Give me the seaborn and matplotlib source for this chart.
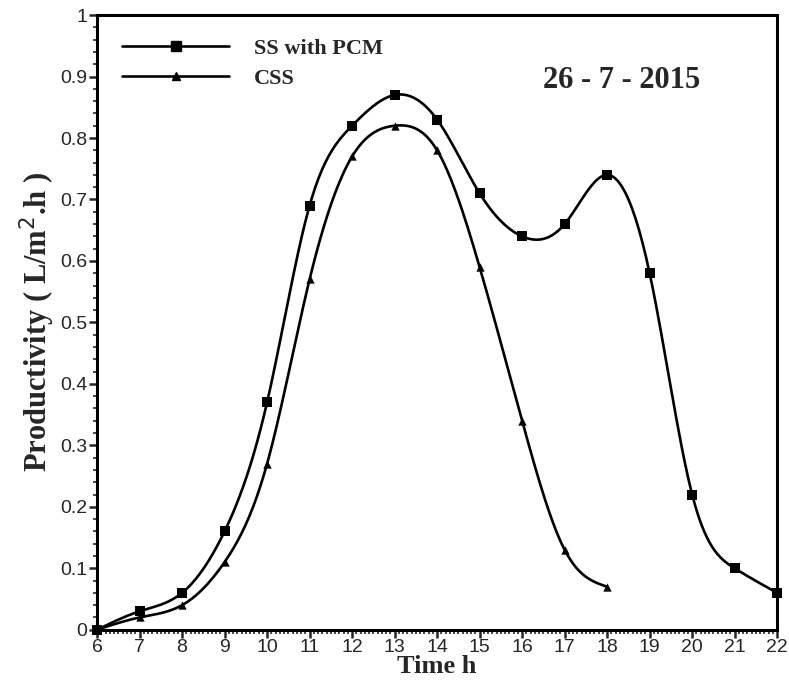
import numpy as np
import pandas as pd
import matplotlib
matplotlib.use("Agg")
import matplotlib.pyplot as plt
from matplotlib.lines import Line2D
from matplotlib.ticker import MultipleLocator
import seaborn as sns

hours_pcm = [6, 7, 8, 9, 10, 11, 12, 13, 14, 15, 16, 17, 18, 19, 20, 21, 22]
ss_with_pcm = [0.0, 0.03, 0.06, 0.16, 0.37, 0.69, 0.82, 0.87, 0.83, 0.71,
               0.64, 0.66, 0.74, 0.58, 0.22, 0.10, 0.06]
hours_css = [6, 7, 8, 9, 10, 11, 12, 13, 14, 15, 16, 17, 18]
css = [0.0, 0.02, 0.04, 0.11, 0.27, 0.57, 0.77, 0.82, 0.78, 0.59, 0.34, 0.13, 0.07]
date_text = "26 - 7 - 2015"


# natural cubic spline, only used to draw the smooth line between points
def smooth(x, y, n=400):
    x = np.asarray(x, float)
    y = np.asarray(y, float)
    h = np.diff(x)
    m = len(x)
    A = np.zeros((m, m))
    rhs = np.zeros(m)
    A[0, 0] = A[-1, -1] = 1
    for i in range(1, m - 1):
        A[i, i - 1] = h[i - 1]
        A[i, i] = 2 * (h[i - 1] + h[i])
        A[i, i + 1] = h[i]
        rhs[i] = 3 * ((y[i + 1] - y[i]) / h[i] - (y[i] - y[i - 1]) / h[i - 1])
    c = np.linalg.solve(A, rhs)
    b = (y[1:] - y[:-1]) / h - h * (2 * c[:-1] + c[1:]) / 3
    d = (c[1:] - c[:-1]) / (3 * h)
    xs = np.linspace(x[0], x[-1], n)
    k = np.clip(np.searchsorted(x, xs, side="right") - 1, 0, m - 2)
    t = xs - x[k]
    ys = y[k] + b[k] * t + c[k] * t ** 2 + d[k] * t ** 3
    return xs, ys


sns.set_style("ticks")
plt.rcParams["font.family"] = ["Liberation Sans", "DejaVu Sans"]

fig = plt.figure(figsize=(7.89, 6.86), dpi=100)
ax = fig.add_axes([0.123, 0.082, 0.862, 0.896])

for xv, yv, mk, ms in [(hours_pcm, ss_with_pcm, "s", 7), (hours_css, css, "^", 6)]:
    xs, ys = smooth(xv, yv)
    curve = pd.DataFrame({"x": xs, "y": ys})
    sns.lineplot(data=curve, x="x", y="y", ax=ax, color="black", linewidth=1.9,
                 sort=False, estimator=None)
    pts = pd.DataFrame({"x": xv, "y": yv})
    sns.scatterplot(data=pts, x="x", y="y", ax=ax, color="black", marker=mk,
                    s=ms ** 2, linewidth=0, zorder=3, clip_on=False)

ax.set_xlim(6, 22)
ax.set_ylim(0, 1)
ax.xaxis.set_major_locator(MultipleLocator(1))
ax.xaxis.set_minor_locator(MultipleLocator(0.1))
ax.yaxis.set_major_locator(MultipleLocator(0.1))
ax.yaxis.set_minor_locator(MultipleLocator(0.02))
ax.set_yticks(np.arange(0, 1.01, 0.1))
ax.set_yticklabels(["0", "0.1", "0.2", "0.3", "0.4", "0.5", "0.6", "0.7", "0.8", "0.9", "1"])
ax.tick_params(which="major", direction="out", length=6, width=1.8, labelsize=14, pad=1)
ax.tick_params(which="minor", direction="out", length=3, width=1.2)

for sp in ax.spines.values():
    sp.set_linewidth(2.2)
    sp.set_color("black")

serif_bold = {"family": ["Liberation Serif", "DejaVu Serif"], "weight": "bold"}
ax.set_xlabel("Time h", fontsize=19, labelpad=-1, **serif_bold)
ax.set_ylabel("Productivity ( L/m$^{2}$.h )", fontsize=22, labelpad=2, **serif_bold)

handles = [
    Line2D([], [], color="black", linewidth=1.9, marker="s", markersize=7),
    Line2D([], [], color="black", linewidth=1.9, marker="^", markersize=6),
]
ax.legend(handles, ["SS with PCM", "CSS"], loc="upper left", frameon=False,
          handlelength=4.8, handletextpad=1.1, labelspacing=0.45,
          bbox_to_anchor=(0.008, 0.995),
          prop={"family": "Liberation Serif", "weight": "bold", "size": 16})

ax.text(0.772, 0.894, date_text, transform=ax.transAxes, ha="center", va="center",
        fontsize=22, **serif_bold)

fig.savefig("out.png", dpi=100)
